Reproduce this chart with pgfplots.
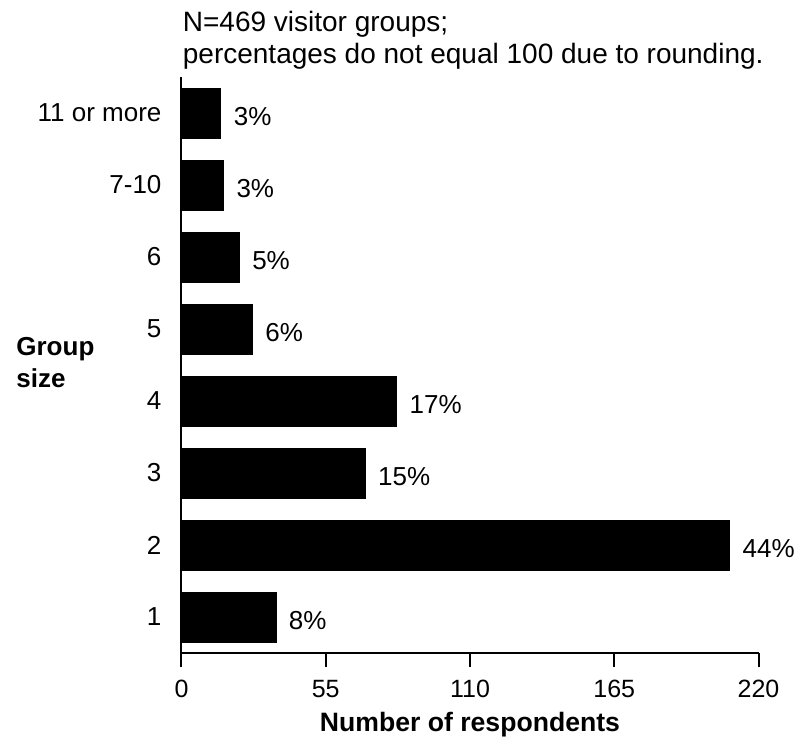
\documentclass[border=0pt]{standalone}
\usepackage{pgfplots}
\pgfplotsset{compat=1.18}
\usepackage{pgfplotstable}
\usepackage{fontspec}
\setmainfont{Liberation Sans}
\pgfplotstableread{
pos count pct
1 36 8
2 209 44
3 70 15
4 82 17
5 27 6
6 22 5
7 16 3
8 15 3
}\groupdata
\begin{document}
\begin{tikzpicture}
\useasboundingbox (-90.75pt,-43.5pt) rectangle (310.75pt,326.5pt);
\begin{axis}[
  at={(0pt,0pt)}, anchor=south west,
  scale only axis,
  width=288.5pt, height=288pt,
  xbar, bar width=25pt,
  xmin=0, xmax=220, ymin=0.5, ymax=8.5,
  axis x line*=bottom, axis y line*=left,
  axis line style={-, line width=1pt, black},
  xtick={0,55,110,165,220},
  ytick={1,2,3,4,5,6,7,8},
  yticklabels={1,2,3,4,5,6,7-10,11 or more},
  tick align=outside,
  x tick style={line width=1pt, black},
  major tick length=7pt,
  y tick style={draw=none},
  /pgf/number format/assume math mode=true,
  xticklabel style={font=\fontsize{12.5}{14}\selectfont, yshift=-3pt},
  yticklabel style={font=\fontsize{13}{15}\selectfont, xshift=0.5pt},
  nodes near coords={\pgfmathprintnumber{\pgfplotspointmeta}\%},
  point meta=explicit,
  nodes near coords style={font=\fontsize{13}{15}\selectfont, anchor=west, xshift=3pt, yshift=-2pt},
  clip=false,
]
\addplot[fill=black, draw=black] table[x=count, y=pos, meta=pct] {\groupdata};
\end{axis}
\node[anchor=base west, font=\fontsize{14}{16}\selectfont, inner sep=0pt] at (0.5pt,310.5pt) {N=469 visitor groups;};
\node[anchor=base west, font=\fontsize{14}{16}\selectfont, inner sep=0pt] at (0.5pt,294.5pt) {percentages do not equal 100 due to rounding.};
\node[anchor=base west, font=\bfseries\fontsize{13}{15}\selectfont, inner sep=0pt] at (-82.75pt,149pt) {Group};
\node[anchor=base west, font=\bfseries\fontsize{13}{15}\selectfont, inner sep=0pt] at (-82.75pt,132.5pt) {size};
\node[anchor=base, font=\bfseries\fontsize{13.3}{16}\selectfont, inner sep=0pt] at (144.25pt,-39.4pt) {Number of respondents};
\end{tikzpicture}
\end{document}
